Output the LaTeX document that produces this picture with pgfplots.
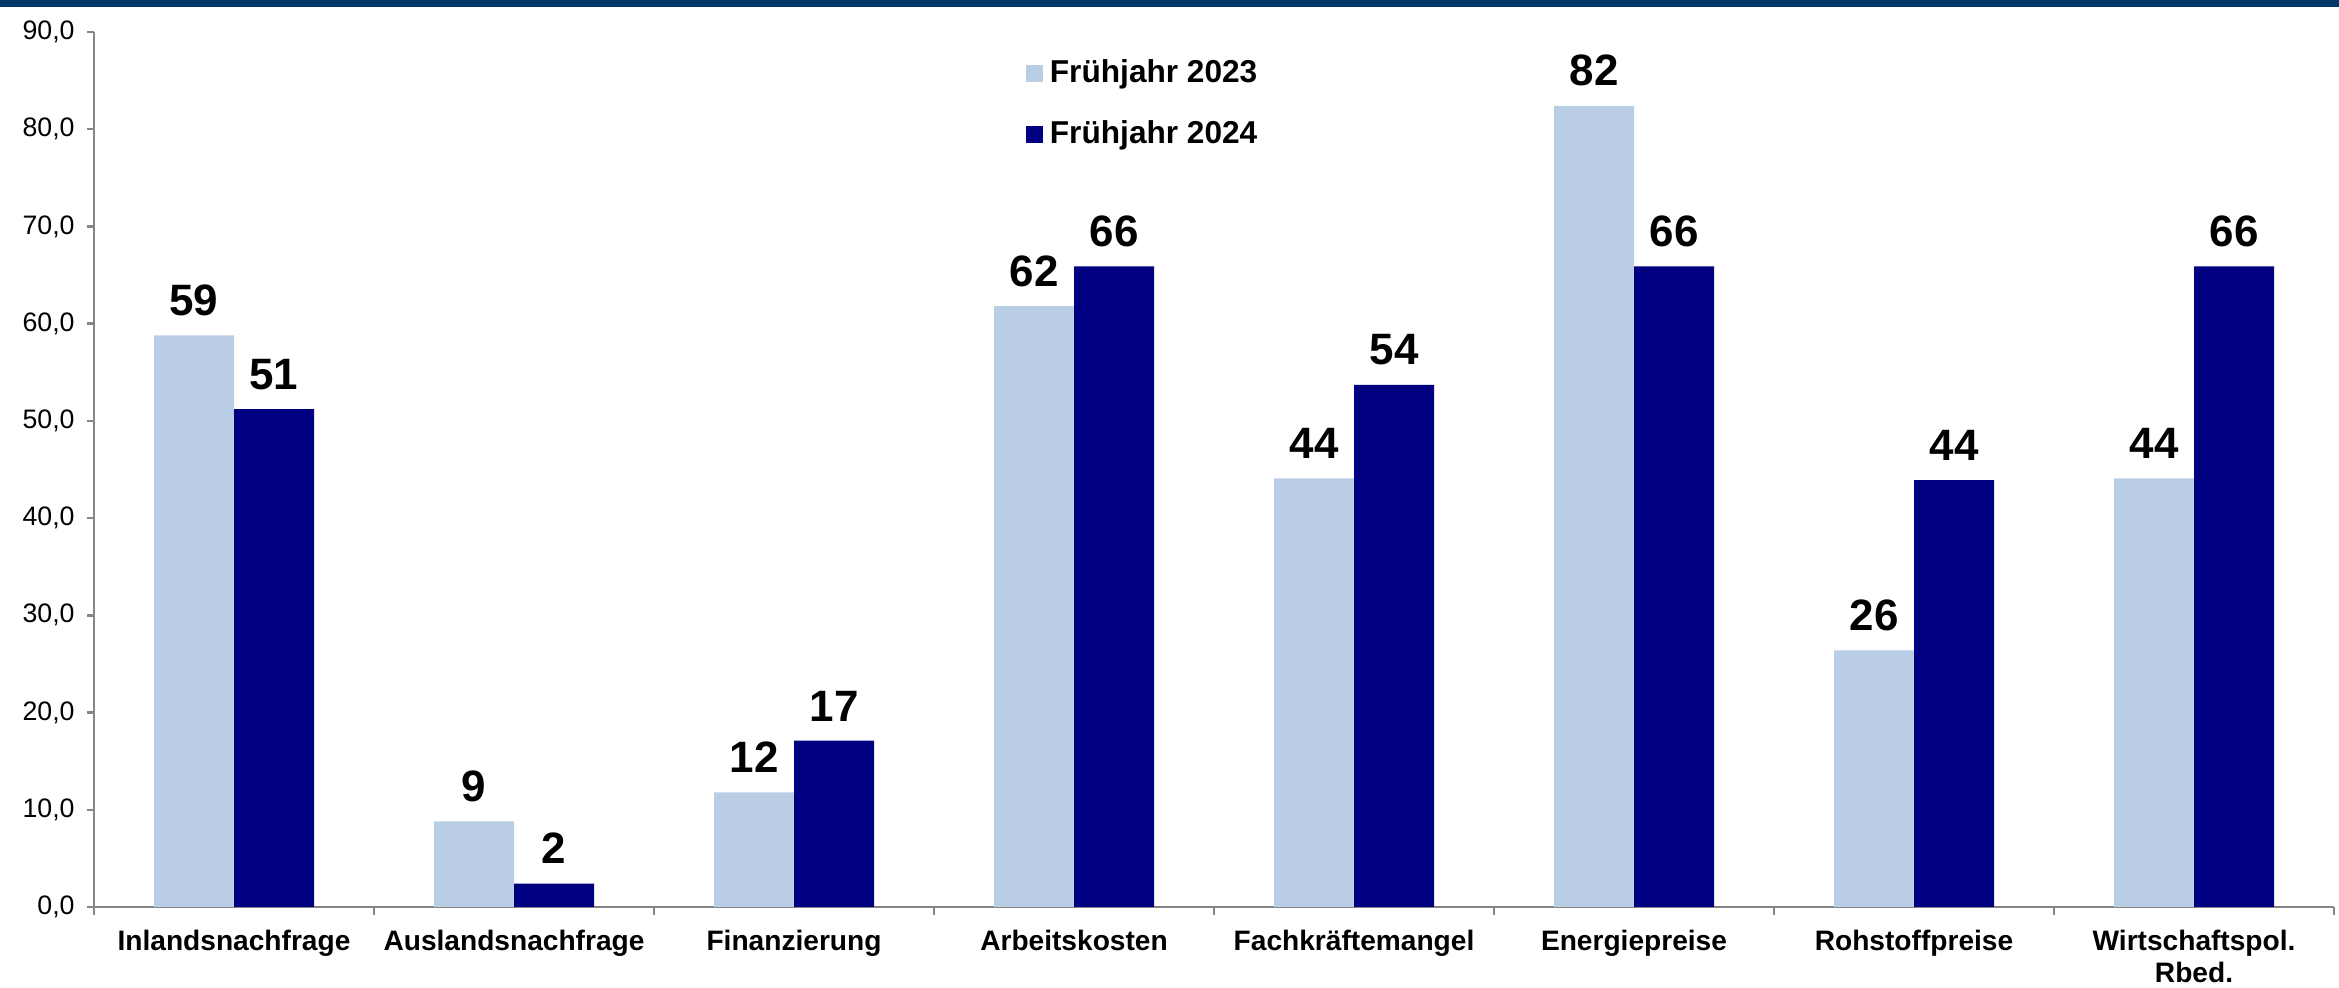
\documentclass[border=0pt]{standalone}
\usepackage{fontspec}
\setmainfont{Liberation Sans}
\usepackage{pgfplots}
\pgfplotsset{compat=1.18}
\definecolor{band}{HTML}{003868}
\definecolor{lightbar}{HTML}{B9CDE5}
\definecolor{darkbar}{HTML}{000080}
\definecolor{axisgray}{HTML}{868686}

\begin{document}
\begin{tikzpicture}
\begin{axis}[
  name=ax, at={(0,0)}, anchor=south west,
  scale only axis, width=224mm, height=87.5mm,
  xmin=-0.5, xmax=7.5, ymin=0, ymax=90,
  ybar=0pt, bar width=8mm,
  axis lines*=left,
  axis line style={axisgray, line width=0.25mm},
  tick align=outside,
  major tick length=0.7mm, minor tick length=0.8mm,
  tick style={axisgray, line width=0.25mm},
  ytick={0,10,...,90},
  y tick label style={font=\fontsize{7.6}{8.5}\selectfont,
    /pgf/number format/.cd, fixed, fixed zerofill, precision=1, use comma, assume math mode=true},
  xtick={0,...,7},
  major x tick style={draw=none},
  minor xtick={-0.5,0.5,...,7.5},
  xticklabels={Inlandsnachfrage,Auslandsnachfrage,Finanzierung,Arbeitskosten,Fachkräftemangel,Energiepreise,Rohstoffpreise,{Wirtschaftspol.\\Rbed.}},
  x tick label style={font=\bfseries\fontsize{8}{9.2}\selectfont, align=center, inner sep=0pt, yshift=-1.5mm},
  nodes near coords={\pgfmathprintnumber[fixed,precision=0,assume math mode=true]{\pgfplotspointmeta}},
  nodes near coords style={font=\bfseries\fontsize{12.5}{14}\selectfont, inner sep=0pt, yshift=1.9mm, text=black},
  legend style={at={(0.411,0.985)}, anchor=north west, draw=none, fill=none,
    font=\bfseries\fontsize{9}{10.8}\selectfont, row sep=1.8mm},
  legend cell align=left,
]
\addplot[fill=lightbar, draw=none,
  legend image code/.code={\fill[lightbar] (0mm,-0.85mm) rectangle (1.7mm,0.85mm);}]
  coordinates {(0,58.8) (1,8.8) (2,11.8) (3,61.8) (4,44.1) (5,82.4) (6,26.4) (7,44.1)};
\addplot[fill=darkbar, draw=none,
  legend image code/.code={\fill[darkbar] (0mm,-0.85mm) rectangle (1.7mm,0.85mm);}]
  coordinates {(0,51.2) (1,2.4) (2,17.1) (3,65.9) (4,53.7) (5,65.9) (6,43.9) (7,65.9)};
\legend{Frühjahr 2023,Frühjahr 2024}
\end{axis}
\fill[band] ([xshift=-9.4mm,yshift=90.7mm]ax.south west) rectangle ([xshift=224.5mm,yshift=90.0mm]ax.south west);
\path ([xshift=-9.4mm,yshift=-8.1mm]ax.south west) rectangle ([xshift=224.5mm,yshift=90.7mm]ax.south west);
\end{tikzpicture}
\end{document}
